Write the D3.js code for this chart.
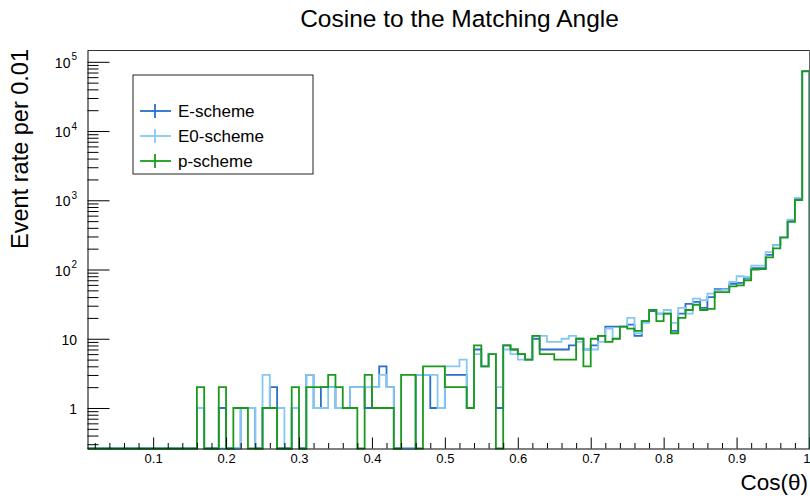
<!DOCTYPE html>
<html>
<head>
<meta charset="utf-8">
<script src="https://cdn.jsdelivr.net/npm/d3@7"></script>
<style>
  html, body { margin: 0; padding: 0; background: #fff; }
  svg { display: block; font-family: "Liberation Sans", Arial, Helvetica, sans-serif; }
</style>
</head>
<body>
<svg id="chart" width="810" height="499"></svg>
<script>
// Histogram binning: 99 bins of width 0.01 from 0.01 to 1.00
const binWidth = 0.01;
const binLow = d3.range(1, 100).map(k => +(k * binWidth).toFixed(2));

// Event rate per bin, E-scheme
const eScheme = [
  0,0,0,0,0,0,0,0,0,0,0,0,0,0,0,
  1,0,0,1,0,0,1,1,0,1,2,0,0,1,0,3,1,2,2,1,1,2,2,1,2,4,2,0,0,0,3,3,1,1,3,3,3,1,
  7,4,6,1,8,7,6,5,10,7,7,7,7,8,10,7,8,11,15,15,15,16,11,18,25,23,23,13,23,32,
  34,28,40,52,52,62,64,76,105,105,163,225,295,515,1060,73500
];

// Event rate per bin, E0-scheme
const e0Scheme = [
  0,0,0,0,0,0,0,0,0,0,0,0,0,0,0,
  1,0,0,0,0,0,1,1,0,3,1,1,0,1,0,3,1,1,2,1,1,2,2,2,2,3,2,0,0,0,3,3,3,1,4,4,5,1,
  6,4,6,2,7,6,5,5,11,11,9,9,10,11,9,7,7,9,14,10,15,20,12,17,26,23,26,17,28,23,
  38,36,45,50,51,66,80,78,114,114,178,224,295,527,1080,73500
];

// Event rate per bin, p-scheme
const pScheme = [
  0,0,0,0,0,0,0,0,0,0,0,0,0,0,0,
  2,0,0,2,0,1,1,0,0,1,1,0,0,2,0,2,2,2,3,2,1,1,0,3,1,1,1,0,3,3,0,4,4,4,2,2,2,1,
  8,4,6,0,8,7,6,5,11,6,6,5,5,5,10,4,10,11,9,10,15,14,13,18,26,18,23,12,20,26,
  31,26,27,47,47,57,59,70,100,101,150,202,288,486,1010,73000
];

const seriesNames  = ["E-scheme", "E0-scheme", "p-scheme"];
const seriesColors = ["#2a6fcc", "#86c8f4", "#1a9a1a"];
const seriesData   = [eScheme, e0Scheme, pScheme];

const xMajorTicks = [0.1, 0.2, 0.3, 0.4, 0.5, 0.6, 0.7, 0.8, 0.9, 1.0];
const xTickLabels = ["0.1", "0.2", "0.3", "0.4", "0.5", "0.6", "0.7", "0.8", "0.9", "1"];
const yMajorTicks = [1, 10, 100, 1000, 10000, 100000];

const chartTitle = "Cosine to the Matching Angle";
const xTitle = "Cos(\u03b8)";
const yTitle = "Event rate per 0.01";

// ---- layout ----
const svg = d3.select("#chart");
const frame = { left: 87.5, right: 809.5, top: 50.5, bottom: 448.5 };

const x = d3.scaleLinear().domain([0.01, 1.0]).range([frame.left, frame.right]);
const y = d3.scaleLog().domain([0.26, 1.456e5]).range([frame.bottom, frame.top]);

// ---- histograms (step outlines, empty bins drop to the frame floor) ----
const yOf = v => (v > 0 ? y(v) : frame.bottom);
const line = d3.line().x(d => x(d[0])).y(d => yOf(d[1]));

seriesData.forEach((vals, si) => {
  const pts = [[binLow[0], 0]];
  vals.forEach((v, i) => {
    pts.push([binLow[i], v]);
    pts.push([binLow[i] + binWidth, v]);
  });
  pts.push([binLow[binLow.length - 1] + binWidth, 0]);
  svg.append("path")
    .attr("d", line(pts))
    .attr("fill", "none")
    .attr("stroke", seriesColors[si])
    .attr("stroke-width", 1.8)
    .attr("stroke-linejoin", "miter");
});

// ---- frame (top / right) ----
svg.append("line").attr("x1", frame.left).attr("x2", frame.right)
  .attr("y1", frame.top).attr("y2", frame.top)
  .attr("stroke", "#333").attr("stroke-width", 1);
svg.append("line").attr("x1", frame.right).attr("x2", frame.right)
  .attr("y1", frame.top).attr("y2", frame.bottom)
  .attr("stroke", "#666").attr("stroke-width", 1);

// ---- x axis ----
const xMinor = d3.range(1, 50).map(k => +(k * 0.02).toFixed(2))
  .filter(v => !xMajorTicks.some(m => Math.abs(m - v) < 1e-9));

const gxMinor = svg.append("g").attr("transform", `translate(0,${frame.bottom})`)
  .call(d3.axisBottom(x).tickValues(xMinor).tickSizeInner(-5.5).tickSizeOuter(0).tickFormat(""));
gxMinor.select(".domain").remove();
gxMinor.selectAll("line").attr("stroke", "#000");

const gx = svg.append("g").attr("transform", `translate(0,${frame.bottom})`)
  .call(d3.axisBottom(x).tickValues(xMajorTicks).tickSizeInner(-11).tickSizeOuter(0)
    .tickPadding(5.5).tickFormat((d, i) => xTickLabels[i]));
gx.select(".domain").attr("stroke", "#000");
gx.selectAll("line").attr("stroke", "#000");
gx.selectAll("text").attr("font-size", 13).attr("fill", "#000")
  .style("font-family", "'Liberation Sans', Arial, sans-serif");
// the label at the right frame edge is kept inside the canvas
gx.selectAll(".tick").filter(d => d === 1.0).select("text")
  .attr("text-anchor", "end").attr("x", 0.5);

// ---- y axis ----
const yMinor = [];
for (let e = -1; e <= 5; e++) {
  for (let m = 2; m <= 9; m++) {
    const v = m * Math.pow(10, e);
    if (v >= y.domain()[0] && v <= y.domain()[1]) yMinor.push(v);
  }
}
const gyMinor = svg.append("g").attr("transform", `translate(${frame.left},0)`)
  .call(d3.axisLeft(y).tickValues(yMinor).tickSizeInner(-11).tickSizeOuter(0).tickFormat(""));
gyMinor.select(".domain").remove();
gyMinor.selectAll("line").attr("stroke", "#000");

const gy = svg.append("g").attr("transform", `translate(${frame.left},0)`)
  .call(d3.axisLeft(y).tickValues(yMajorTicks).tickSizeInner(-22).tickSizeOuter(0)
    .tickPadding(10.5).tickFormat(""));
gy.select(".domain").attr("stroke", "#000");
gy.selectAll("line").attr("stroke", "#000");
gy.selectAll(".tick text").each(function(d) {
  const t = d3.select(this)
    .attr("font-size", 14).attr("fill", "#000").attr("dy", "0.4em")
    .style("font-family", "'Liberation Sans', Arial, sans-serif");
  const exp = Math.round(Math.log10(d));
  if (exp <= 1) {
    t.text(String(d));
  } else {
    t.text("");
    t.append("tspan").text("10");
    t.append("tspan").attr("font-size", 10).attr("dy", "-0.75em").attr("dx", "1").text(exp);
  }
});

// ---- titles ----
svg.append("text").attr("x", 459.5).attr("y", 27).attr("text-anchor", "middle")
  .attr("font-size", 24.5).attr("fill", "#000").text(chartTitle);
svg.append("text").attr("x", 808).attr("y", 490).attr("text-anchor", "end")
  .attr("font-size", 22.5).attr("fill", "#000").text(xTitle);
svg.append("text").attr("transform", "translate(28,49) rotate(-90)").attr("text-anchor", "end")
  .attr("font-size", 23.5).attr("fill", "#000").text(yTitle);

// ---- legend ----
const legend = svg.append("g");
legend.append("rect").attr("x", 133).attr("y", 75).attr("width", 180).attr("height", 99)
  .attr("fill", "#fff").attr("stroke", "#222").attr("stroke-width", 1);
seriesNames.forEach((name, i) => {
  const cy = 111 + i * 25;
  legend.append("line").attr("x1", 140).attr("x2", 171).attr("y1", cy).attr("y2", cy)
    .attr("stroke", seriesColors[i]).attr("stroke-width", 1.8);
  legend.append("line").attr("x1", 155).attr("x2", 155).attr("y1", cy - 7).attr("y2", cy + 7)
    .attr("stroke", seriesColors[i]).attr("stroke-width", 1.8);
  legend.append("text").attr("x", 178).attr("y", cy + 5.5)
    .attr("font-size", 17).attr("fill", "#000").text(name);
});
</script>
</body>
</html>
